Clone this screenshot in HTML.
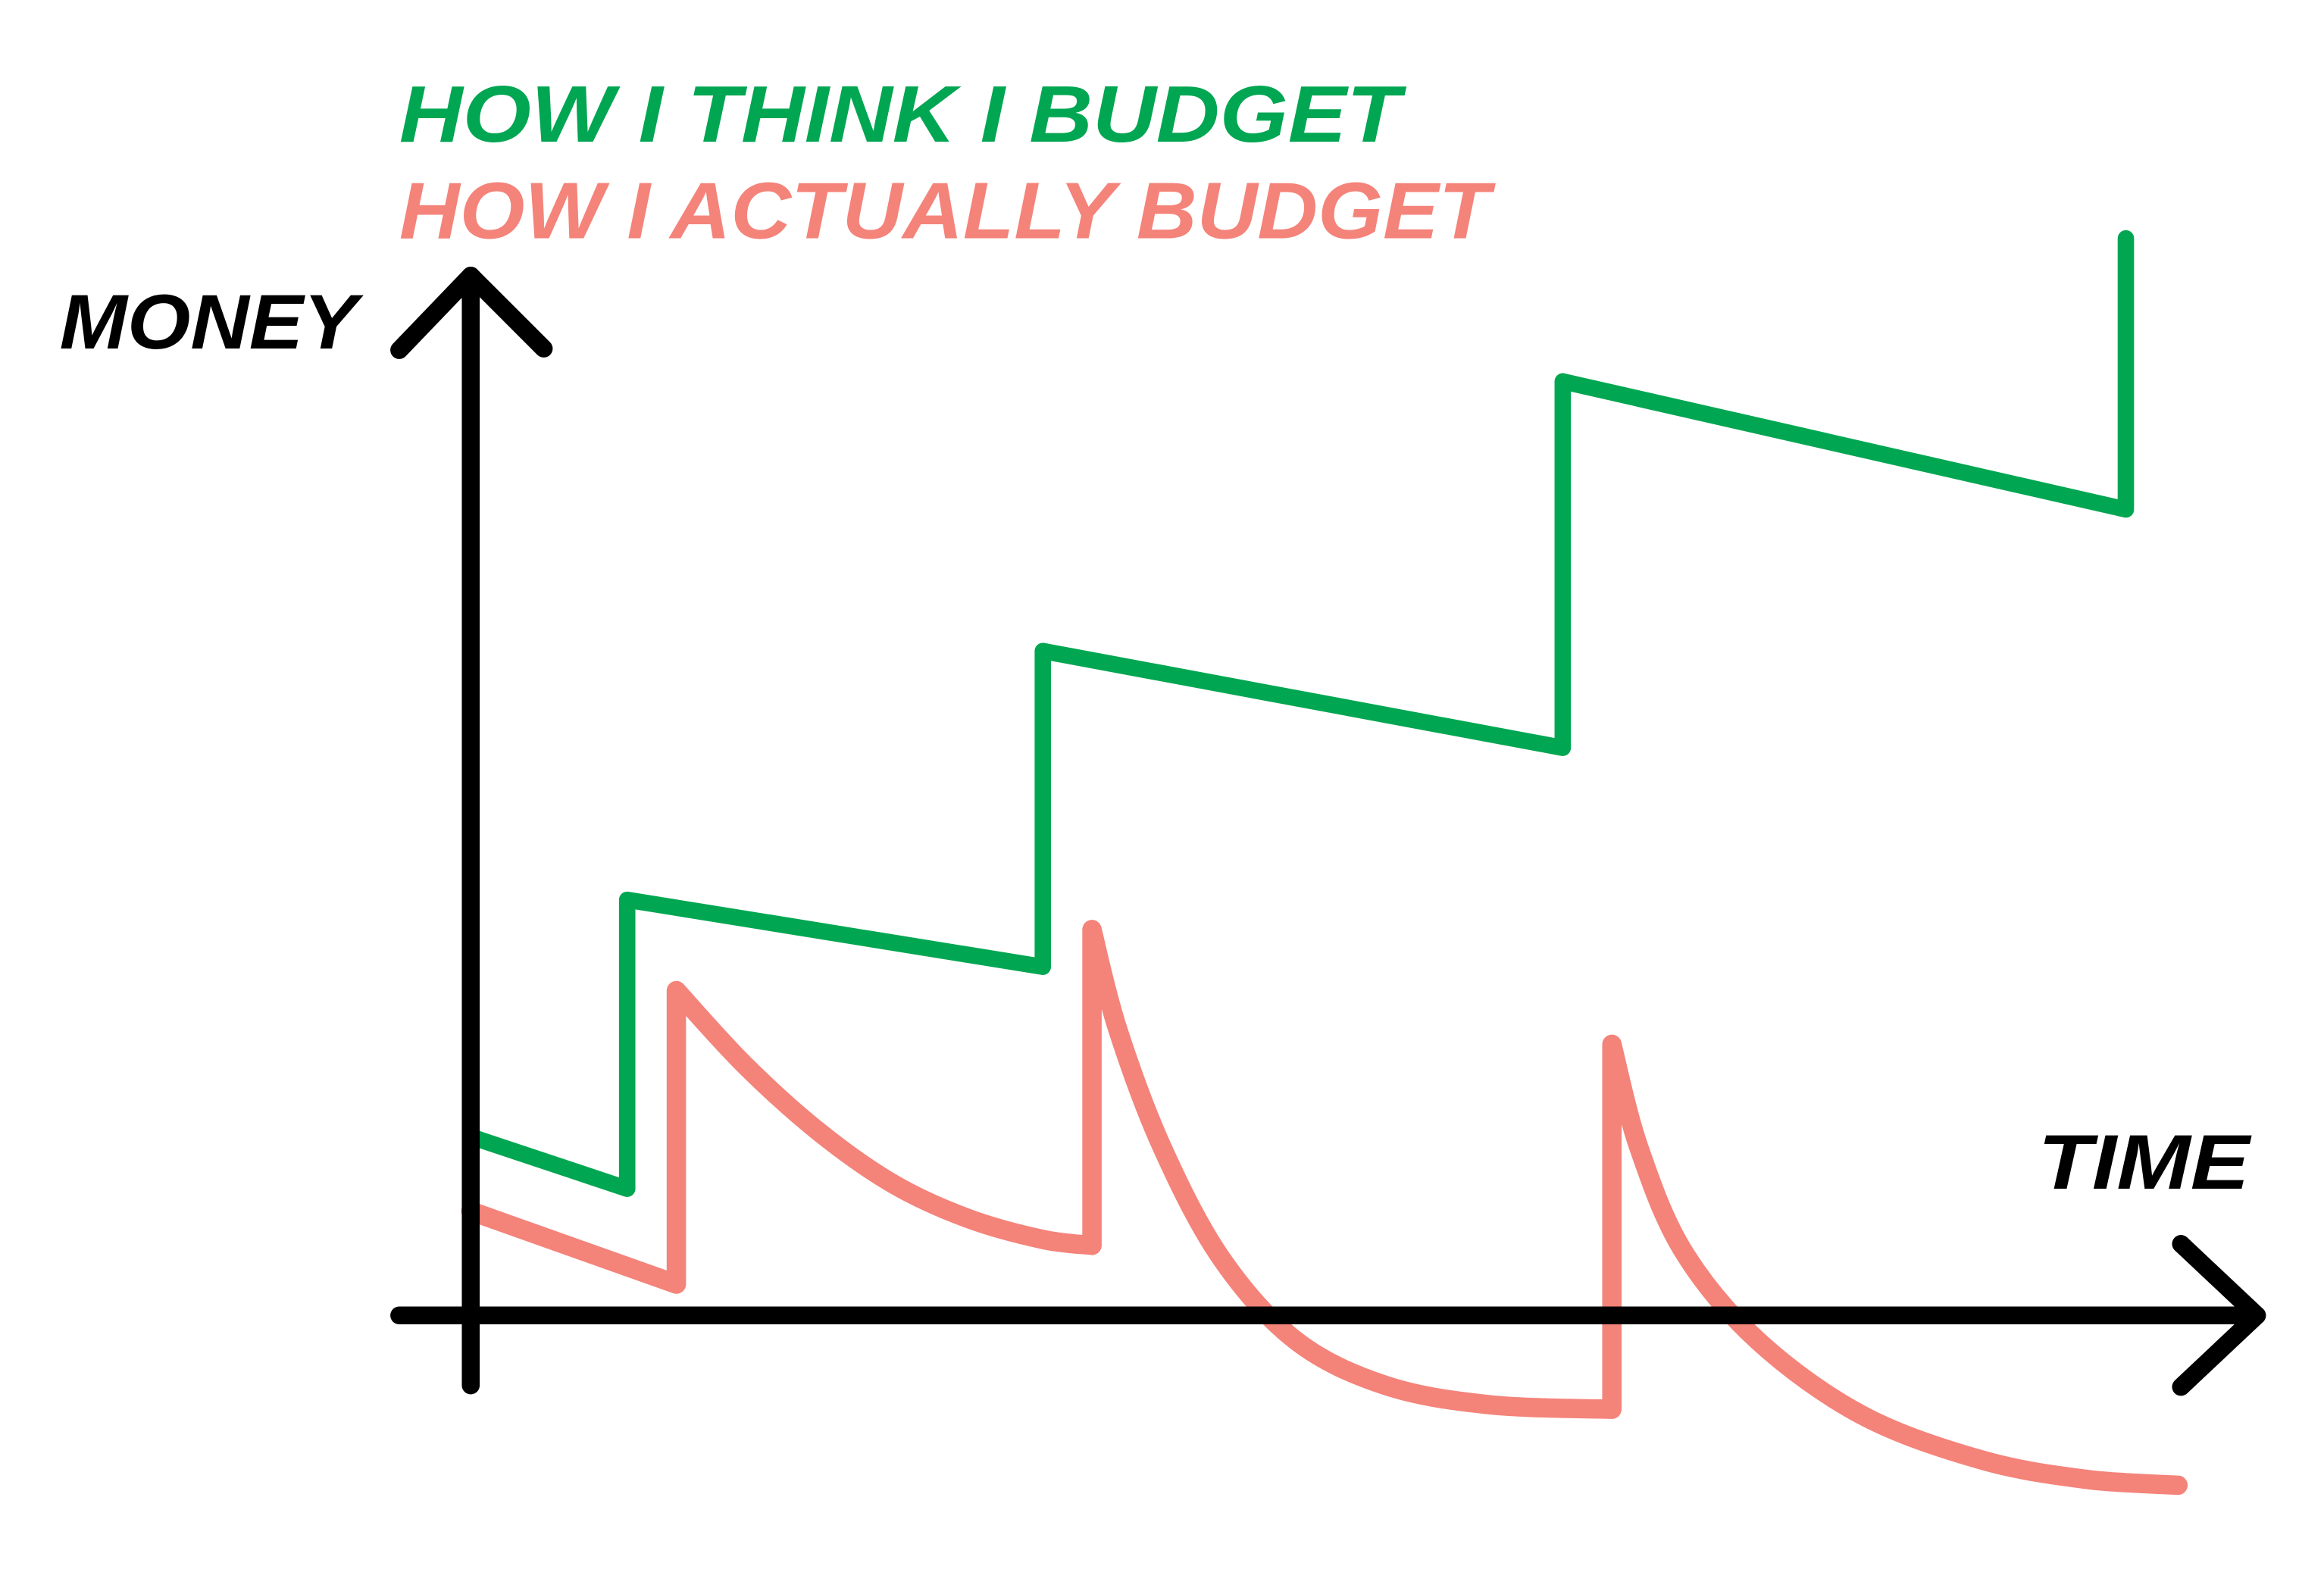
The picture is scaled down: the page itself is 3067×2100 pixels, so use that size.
<!DOCTYPE html>
<html><head><meta charset="utf-8"><style>
html,body{margin:0;padding:0;background:#fff;}
svg{display:block;}
text{font-family:"Liberation Sans",sans-serif;font-weight:bold;font-style:italic;}
</style></head><body>
<svg id="chart" width="3067" height="2100" viewBox="0 0 1560 1068" preserveAspectRatio="none" xmlns="http://www.w3.org/2000/svg">
<rect width="1560" height="1068" fill="#fff"/>
<text x="268" y="95" font-size="54" fill="#00a651" textLength="672" lengthAdjust="spacingAndGlyphs">HOW I THINK I BUDGET</text>
<text x="268" y="160" font-size="54" fill="#f4837a" textLength="732" lengthAdjust="spacingAndGlyphs">HOW I ACTUALLY BUDGET</text>
<text x="40" y="234" font-size="52" fill="#000" textLength="200" lengthAdjust="spacingAndGlyphs">MONEY</text>
<text x="1368" y="798" font-size="52" fill="#000" textLength="142" lengthAdjust="spacingAndGlyphs">TIME</text>
<g id="series"></g>
<g stroke="#000" stroke-width="12" stroke-linecap="round" stroke-linejoin="round" fill="none">
<line x1="316" y1="185" x2="316" y2="930"/>
<polyline points="268,235 316,185 365,234"/>
<line x1="268" y1="883" x2="1515" y2="883"/>
<polyline points="1464,835 1515,883 1464,931"/>
</g>
</svg>
<script>
const greenTimes=[0,105,105,384,384,733,733,1111,1111];
const greenValues=[120,85,279,234,446,381,627,541,723];
const redLineTimes=[0,138];
const redLineValues=[70,21];
const curve1Times=[138,184,234,284,334,384,417];
const curve1Values=[218,168,123,88,65,51,47];
const curve2Times=[417,434,464,504,554,614,684,766];
const curve2Values=[259,193,113,38,-17,-47,-60,-63];
const curve3Times=[766,784,814,864,934,1014,1084,1146];
const curve3Values=[182,113,43,-17,-67,-97,-110,-114];
function xs(t){return 316+t;}
function ys(v){return 883-v;}
const g=document.getElementById('series');
const NS='http://www.w3.org/2000/svg';
const gl=document.createElementNS(NS,'polyline');


gl.setAttribute('points',greenTimes.map((t,i)=>xs(t)+','+ys(greenValues[i])).join(' '));
gl.setAttribute('fill','none');gl.setAttribute('stroke','#00a651');gl.setAttribute('stroke-width','11');
gl.setAttribute('stroke-linejoin','round');gl.setAttribute('stroke-linecap','round');
g.appendChild(gl);
function curvePath(T,V){
  const P=T.map((t,i)=>[xs(t),ys(V[i])]);
  let d='';
  for(let i=0;i<P.length-1;i++){
    const p0=P[Math.max(i-1,0)],p1=P[i],p2=P[i+1],p3=P[Math.min(i+2,P.length-1)];
    const c1=[p1[0]+(p2[0]-p0[0])/6,p1[1]+(p2[1]-p0[1])/6];
    const c2=[p2[0]-(p3[0]-p1[0])/6,p2[1]-(p3[1]-p1[1])/6];
    d+=' C'+c1[0]+' '+c1[1]+' '+c2[0]+' '+c2[1]+' '+p2[0]+' '+p2[1];
  }
  return d;
}
let d='M'+xs(redLineTimes[0])+' '+ys(redLineValues[0])+' L'+xs(redLineTimes[1])+' '+ys(redLineValues[1]);
[[curve1Times,curve1Values],[curve2Times,curve2Values],[curve3Times,curve3Values]].forEach(([T,V])=>{
  d+=' L'+xs(T[0])+' '+ys(V[0]);
  d+=curvePath(T,V);
});
const rl=document.createElementNS(NS,'path');


rl.setAttribute('d',d);
rl.setAttribute('fill','none');rl.setAttribute('stroke','#f4837a');rl.setAttribute('stroke-width','13');
rl.setAttribute('stroke-linejoin','round');rl.setAttribute('stroke-linecap','round');
g.appendChild(rl);
</script>
</body></html>
